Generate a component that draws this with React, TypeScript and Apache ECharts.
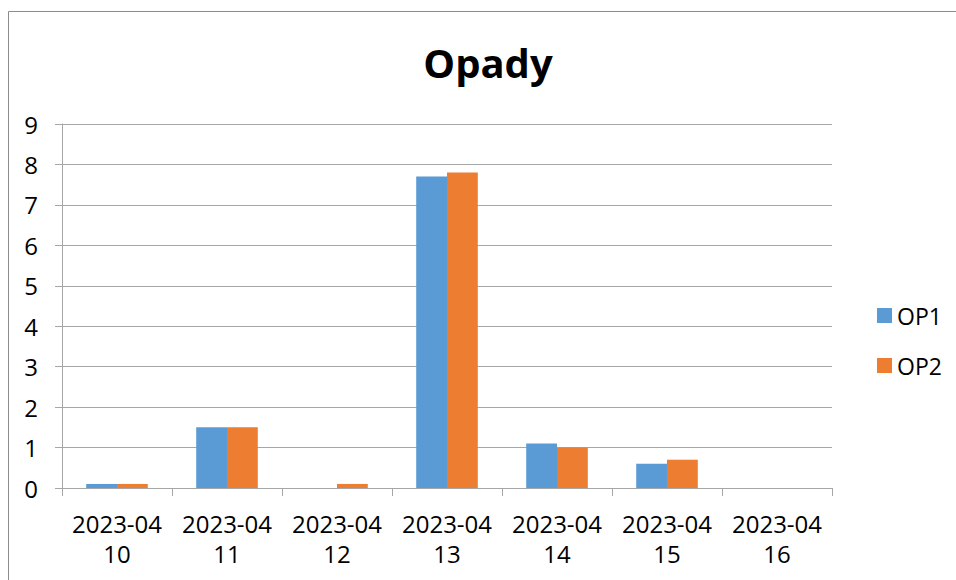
import React, { useEffect, useRef } from "react";
import * as echarts from "echarts";

const categories = ["2023-04\n10", "2023-04\n11", "2023-04\n12", "2023-04\n13", "2023-04\n14", "2023-04\n15", "2023-04\n16"];
const op1 = [0.1, 1.5, 0, 7.7, 1.1, 0.6, 0];
const op2 = [0.1, 1.5, 0.1, 7.8, 1.0, 0.7, 0];
const seriesNames = ["OP1", "OP2"];

const FONT = "'Open Sans', 'Liberation Sans', sans-serif";

export default function App() {
  const ref = useRef<HTMLDivElement>(null);
  useEffect(() => {
    const chart = echarts.init(ref.current!, null, { renderer: "svg" });
    chart.setOption({
      animation: false,
      backgroundColor: "#ffffff",
      graphic: [
        {
          type: "rect",
          shape: { x: 8.5, y: 11.5, width: 1000, height: 700 },
          style: { fill: "none", stroke: "#8c8c8c", lineWidth: 1 },
          silent: true,
        },
      ],
      title: {
        text: "Opady",
        left: 483,
        textAlign: "center",
        top: 37,
        textStyle: { fontFamily: FONT, fontSize: 40, fontWeight: "bold", color: "#000" },
      },
      legend: {
        orient: "vertical",
        left: 872,
        top: 299,
        itemWidth: 15,
        itemHeight: 15,
        itemGap: 27,
        icon: "rect",
        textStyle: { fontFamily: FONT, fontSize: 23, color: "#000" },
        data: seriesNames,
      },
      grid: { left: 62, right: 124, top: 124, bottom: 92, containLabel: false },
      xAxis: {
        type: "category",
        data: categories,
        boundaryGap: true,
        axisLine: { show: true, lineStyle: { color: "#a6a6a6", width: 1 } },
        axisTick: { show: true, length: 8, alignWithLabel: false, lineStyle: { color: "#a6a6a6" } },
        axisLabel: { fontFamily: FONT, fontSize: 24, color: "#000", margin: 20, lineHeight: 30, interval: 0 },
      },
      yAxis: {
        type: "value",
        min: 0,
        max: 9,
        interval: 1,
        axisLine: { show: true, lineStyle: { color: "#a6a6a6", width: 1 } },
        axisTick: { show: true, length: 7, lineStyle: { color: "#a6a6a6" } },
        splitLine: { show: true, lineStyle: { color: "#a6a6a6", width: 1 } },
        axisLabel: { fontFamily: FONT, fontSize: 24, color: "#000", margin: 24 },
      },
      series: [
        {
          name: seriesNames[0],
          type: "bar",
          data: op1,
          barGap: "0%",
          barCategoryGap: "44%",
          itemStyle: { color: "#5B9BD5" },
        },
        {
          name: seriesNames[1],
          type: "bar",
          data: op2,
          barGap: "0%",
          barCategoryGap: "44%",
          itemStyle: { color: "#ED7D31" },
        },
      ],
    });
    return () => chart.dispose();
  }, []);
  return <div ref={ref} style={{ position: "fixed", left: 0, top: 0, width: 956, height: 580 }} />;
}
